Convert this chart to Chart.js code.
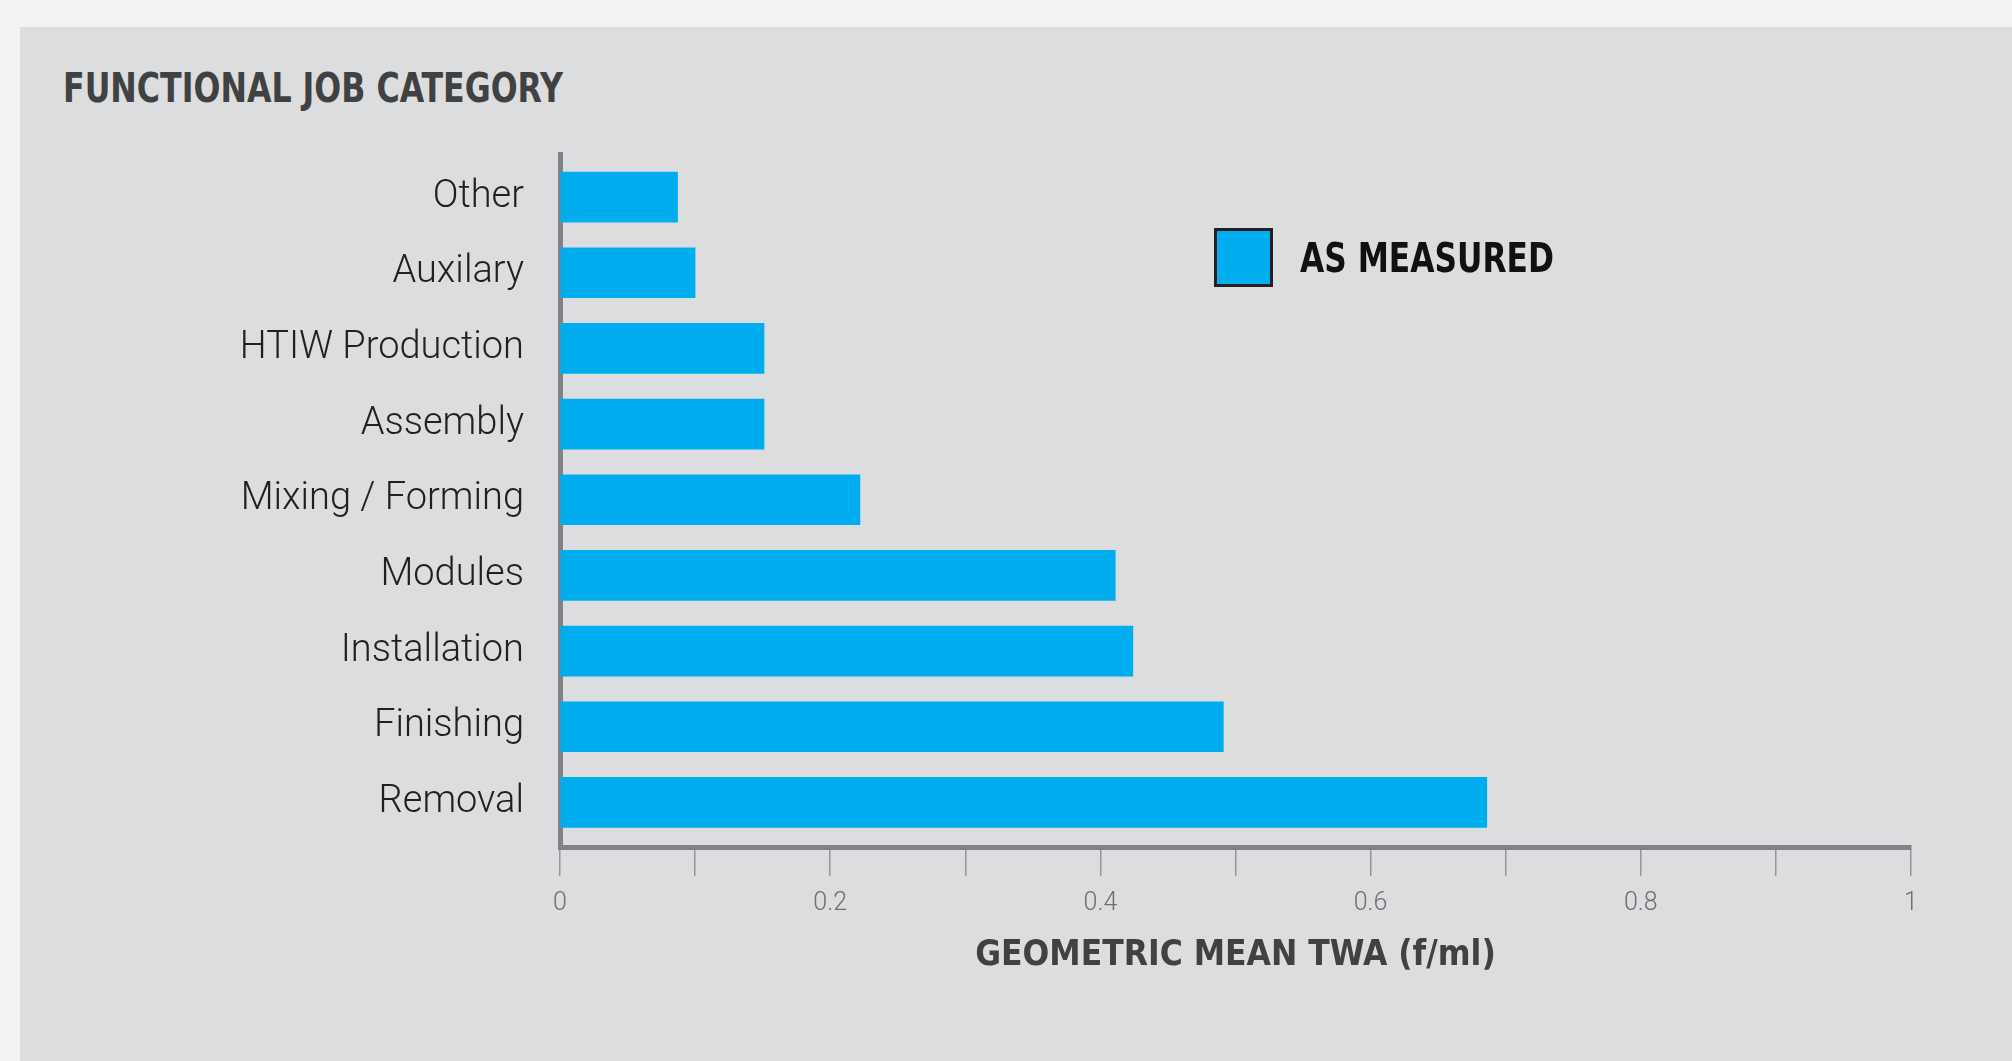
<!DOCTYPE html>
<html>
<head>
<meta charset="utf-8">
<script src="https://cdn.jsdelivr.net/npm/chart.js@4.4.1/dist/chart.umd.min.js"></script>
<style>
    html, body {
        margin: 0;
        padding: 0;
        width: 2012px;
        height: 1061px;
        overflow: hidden;
        background: #f1f2f4;
    }
    .panel {
        position: absolute;
        left: 20px;
        top: 27px;
        right: 0;
        bottom: 0;
        background: #dcdddf;
    }
    .chart-title {
        position: absolute;
        left: 63px;
        top: 68px;
        font-family: "Liberation Sans Narrow", "DejaVu Sans Condensed", sans-serif;
        font-weight: bold;
        font-size: 40px;
        line-height: 40px;
        color: #414042;
        white-space: nowrap;
        transform: scaleX(0.88);
        transform-origin: left center;
    }
    .legend {
        position: absolute;
        left: 1214px;
        top: 228px;
        display: flex;
        align-items: center;
    }
    .legend .swatch {
        width: 53px;
        height: 53px;
        border: 3px solid #231f20;
    }
    .legend .label {
        margin-left: 27px;
        font-family: "Liberation Sans Narrow", "DejaVu Sans Condensed", sans-serif;
        font-weight: bold;
        font-size: 40px;
        color: #111111;
        white-space: nowrap;
        transform: scaleX(0.87);
        transform-origin: left center;
    }
    #chartWrap {
        position: absolute;
        left: 0;
        top: 0;
        width: 2012px;
        height: 1061px;
    }
</style>
</head>
<body>
<div class="panel"></div>
<div class="chart-title">FUNCTIONAL JOB CATEGORY</div>
<div id="chartWrap"><canvas id="jobChart"></canvas></div>
<div class="legend" id="legend"></div>

<script>
// data
const categories = ["Other", "Auxilary", "HTIW Production", "Assembly", "Mixing / Forming", "Modules", "Installation", "Finishing", "Removal"];
const asMeasured = [0.087, 0.100, 0.151, 0.151, 0.222, 0.411, 0.424, 0.491, 0.686];
const xTicks = [0, 0.2, 0.4, 0.6, 0.8, 1];

const narrowFont = "'Liberation Sans Narrow', 'DejaVu Sans Condensed', sans-serif";
const axisGrey = "#808285";

document.addEventListener("DOMContentLoaded", function () {
    const ctx = document.getElementById("jobChart").getContext("2d");

    // category index on a linear axis so the bars can sit a bit in from the axis ends
    const points = asMeasured.map((v, i) => ({ x: v, y: i }));

    const chart = new Chart(ctx, {
        type: "bar",
        data: {
            datasets: [{
                label: "AS MEASURED",
                data: points,
                backgroundColor: "#00aeef",
                borderWidth: 0,
                barThickness: 50
            }]
        },
        options: {
            indexAxis: "y",
            responsive: true,
            maintainAspectRatio: false,
            animation: false,
            layout: {
                padding: { top: 154, right: 101, left: 0, bottom: 0 }
            },
            plugins: {
                legend: { display: false },
                tooltip: { enabled: false }
            },
            scales: {
                y: {
                    type: "linear",
                    reverse: true,
                    offset: false,
                    min: -0.57,
                    max: 8.59,
                    z: 1,
                    afterFit: function (scale) { scale.width = 560; },
                    afterBuildTicks: function (scale) {
                        scale.ticks = categories.map((c, i) => ({ value: i }));
                    },
                    grid: { drawOnChartArea: false, drawTicks: false },
                    border: { display: true, color: axisGrey, width: 5 },
                    ticks: {
                        padding: 36,
                        color: "#231f20",
                        font: { family: "Roboto, sans-serif", size: 38, weight: "300" },
                        callback: function (value) {
                            return categories[value];
                        }
                    }
                },
                x: {
                    z: 1,
                    min: 0,
                    max: 1,
                    afterFit: function (scale) { scale.height = 214; },
                    grid: {
                        drawOnChartArea: false,
                        drawTicks: true,
                        tickLength: 29,
                        color: "#939598",
                        lineWidth: 1.5
                    },
                    border: { display: true, color: axisGrey, width: 5 },
                    ticks: {
                        stepSize: 0.1,
                        autoSkip: false,
                        maxRotation: 0,
                        padding: 13,
                        color: "#6d6e71",
                        font: { family: "Roboto, sans-serif", size: 25, weight: "300" },
                        callback: function (value) {
                            const v = Math.round(value * 10) / 10;
                            return xTicks.includes(v) ? String(v) : "";
                        }
                    },
                    title: {
                        display: true,
                        text: "GEOMETRIC MEAN TWA (f/ml)",
                        color: "#414042",
                        padding: { top: 0, bottom: 84 },
                        font: { family: narrowFont, size: 35, weight: "bold" }
                    }
                }
            }
        }
    });

    // legend built from the dataset
    const legend = document.getElementById("legend");
    chart.data.datasets.forEach(ds => {
        const sw = document.createElement("div");
        sw.className = "swatch";
        sw.style.background = ds.backgroundColor;
        const lb = document.createElement("div");
        lb.className = "label";
        lb.textContent = ds.label;
        legend.appendChild(sw);
        legend.appendChild(lb);
    });
});
</script>
</body>
</html>
